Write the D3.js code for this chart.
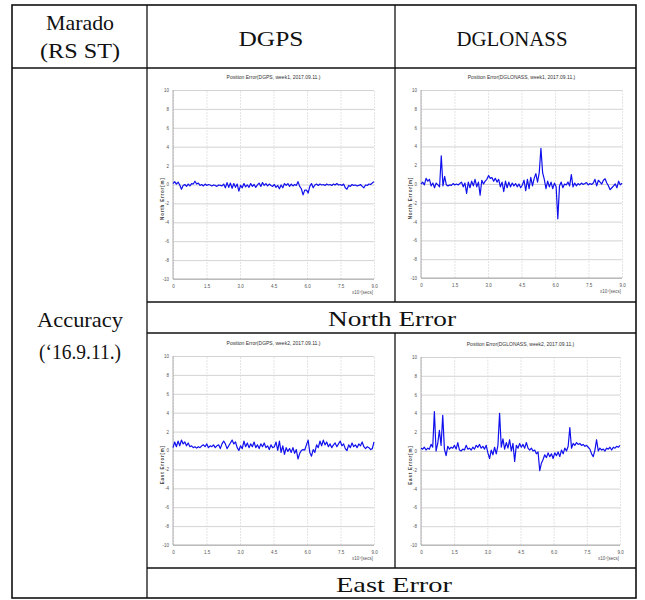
<!DOCTYPE html>
<html><head><meta charset="utf-8">
<script src="https://cdn.jsdelivr.net/npm/d3@7"></script>
<style>body{margin:0;background:#fff}svg{display:block}</style>
</head><body>
<svg id="c" width="645" height="600"></svg>
<script>
// ---- data ----
const columns = ["DGPS", "DGLONASS"];
const rowLabels = ["North Error", "East Error"];
const chartTitles = [
  "Position Error(DGPS, week1, 2017.09.11.)",
  "Position Error(DGLONASS, week1, 2017.09.11.)",
  "Position Error(DGPS, week2, 2017.09.11.)",
  "Position Error(DGLONASS, week2, 2017.09.11.)"
];
const yLabels = ["North Error[m]", "North Error[m]", "East Error[m]", "East Error[m]"];
const timeTicks = [0, 1.5, 3, 4.5, 6, 7.5, 9];
const timeTickLabels = ["0", "1.5", "3.0", "4.5", "6.0", "7.5", "9.0"];
const errTicks = [10, 8, 6, 4, 2, 0, -2, -4, -6, -8, -10];
const timeSpan = 9; // x10^4 secs

const dgpsNorth = [0.10,0.30,0.05,0.25,-0.05,-0.50,-0.10,0.00,-0.20,0.05,-0.15,0.10,0.05,0.35,0.05,0.15,-0.10,0.00,-0.15,0.05,
 -0.10,0.00,-0.05,-0.15,-0.05,-0.10,-0.20,-0.05,-0.10,-0.15,0.05,-0.35,0.20,-0.30,0.15,-0.40,0.10,-0.30,0.05,-0.70,
 -0.10,-0.35,0.10,-0.25,-0.05,-0.30,0.10,-0.20,0.00,-0.30,-0.05,0.15,-0.20,0.20,-0.10,0.10,-0.15,0.05,-0.10,-0.20,
 0.00,-0.30,-0.10,-0.45,-0.05,-0.35,0.10,-0.10,0.10,-0.20,0.05,-0.15,0.00,-0.10,0.30,-0.20,-0.45,-1.10,-0.60,-0.60,
 -0.90,-0.20,0.10,-0.35,-0.05,0.05,-0.10,0.05,-0.05,0.00,-0.10,0.05,-0.05,0.00,-0.10,0.05,-0.05,0.10,-0.05,0.00,
 -0.10,0.05,-0.35,-0.50,-0.10,-0.20,0.00,-0.10,-0.05,-0.15,-0.10,0.00,-0.20,-0.35,-0.05,-0.10,0.05,0.00,0.15,0.30];
const dglonassNorth = [0.00,0.20,-0.10,0.60,0.30,0.50,-0.20,0.10,-0.40,0.10,-0.10,-0.30,3.00,-0.20,0.80,-0.10,-0.20,-0.10,-0.15,0.05,
 -0.10,0.00,-0.10,0.05,0.20,-0.30,0.10,-1.00,0.20,-0.40,0.30,-0.20,0.50,-0.30,0.20,-1.20,0.40,0.00,0.30,0.50,
 0.90,0.60,0.70,0.30,0.60,0.20,0.50,-0.30,0.20,-0.80,0.30,-0.40,0.20,-0.30,0.10,-0.20,0.05,-0.30,0.00,-0.40,
 -0.10,0.40,-0.70,0.50,-0.50,0.70,-0.20,0.60,1.10,0.20,1.20,3.80,1.20,0.50,-0.50,0.30,-0.30,0.20,-0.50,0.10,
 -0.30,-3.70,-0.20,0.20,-0.40,0.00,-0.10,0.20,-0.20,1.00,-0.30,0.10,-0.20,0.05,-0.10,0.10,-0.05,0.05,0.15,-0.10,
 0.05,-0.05,0.10,0.50,-0.20,0.40,0.20,0.00,0.40,0.55,0.10,-0.20,-0.60,-0.40,-0.20,0.00,-0.40,0.30,-0.10,0.10];
const dgpsEast = [0.30,0.90,0.40,1.00,0.50,1.10,0.70,0.90,0.50,0.80,0.40,0.50,0.30,0.40,0.25,0.40,0.30,0.50,0.60,0.40,
 0.70,0.30,0.50,0.40,0.60,0.30,0.50,0.60,0.20,0.70,1.00,0.70,0.20,0.50,0.80,1.10,0.70,0.90,0.30,0.00,
 0.50,0.20,1.00,0.40,0.80,0.30,0.70,0.40,0.90,0.30,0.60,0.20,0.70,0.40,0.80,0.30,0.50,0.10,0.60,0.30,
 0.40,0.90,0.00,1.00,-0.20,0.50,-0.40,0.30,-0.10,0.20,-0.20,0.30,-0.30,0.10,-0.90,-0.30,0.00,0.10,0.05,0.60,
 1.10,-0.20,-0.60,0.10,-0.20,0.60,0.30,1.00,0.50,1.10,0.60,0.90,0.40,0.70,0.30,0.60,0.80,0.40,0.70,1.00,
 0.50,0.70,0.20,0.00,0.60,0.30,0.80,0.40,0.60,0.30,0.70,0.50,0.90,0.40,0.20,0.40,0.30,0.10,0.20,0.90];
const dglonassEast = [0.30,0.20,0.40,0.10,0.30,0.20,0.70,0.40,4.20,0.00,0.80,2.20,0.60,3.80,0.20,-0.50,0.50,0.20,0.40,0.30,
 0.60,0.20,0.90,0.10,0.00,0.20,0.10,0.60,0.20,0.30,0.10,0.40,0.20,0.60,0.40,0.70,0.30,0.50,0.20,0.60,
 -0.20,-0.80,0.10,-0.40,0.40,-0.30,0.60,4.00,0.40,1.30,0.20,0.90,0.30,1.20,0.00,0.80,-1.10,0.60,0.30,0.80,
 0.40,0.70,0.30,0.90,0.30,0.10,0.30,0.00,0.10,-0.30,-0.10,-2.10,-1.30,-0.90,-0.40,-0.70,-0.20,-0.60,-0.30,-0.80,
 -0.20,-0.50,-0.10,-0.60,0.10,-0.30,0.30,0.00,0.50,2.50,0.30,0.80,0.60,0.90,0.70,0.80,0.60,0.70,0.50,0.60,
 0.40,0.20,-0.30,-0.60,0.10,1.20,0.00,0.30,0.10,0.20,0.00,0.30,0.20,0.40,0.10,0.40,0.30,0.50,0.40,0.60];
const seriesList = [dgpsNorth, dglonassNorth, dgpsEast, dglonassEast];

// ---- layout ----
const svg = d3.select("#c");
svg.append("rect").attr("width", 645).attr("height", 600).attr("fill", "#fff");
const T = {L: 12, R: 636, T: 5, B: 598, c1: 147, c2: 395, h: 68, n1: 302, n2: 333, e1: 568};
const serif = "'Liberation Serif','DejaVu Serif',serif";

// charts
const panels = [
  {L: 173, R: 374, T: 90, B: 279, titleY: 79, ylx: 164},
  {L: 421, R: 622, T: 90, B: 278, titleY: 79, ylx: 412},
  {L: 173, R: 374, T: 356, B: 545, titleY: 345, ylx: 164},
  {L: 421, R: 620, T: 357, B: 545, titleY: 346, ylx: 412}
];
const ff = "'Liberation Sans','DejaVu Sans',sans-serif";
panels.forEach((p, k) => {
  const vals = seriesList[k];
  const n = vals.length;
  const pts = vals.map((v, i) => ({t: i * timeSpan / (n - 1), v}));
  const x = d3.scaleLinear().domain([0, 9]).range([p.L, p.R]);
  const y = d3.scaleLinear().domain([-10, 10]).range([p.B, p.T]);
  const g = svg.append("g");
  // horizontal grid
  g.append("g").attr("transform", `translate(${p.L},0)`)
    .call(d3.axisLeft(y).tickValues(errTicks).tickSize(-(p.R - p.L)).tickPadding(4).tickFormat(d => d))
    .call(s => s.select(".domain").remove())
    .call(s => s.selectAll("line").attr("stroke", "#c8c8c8").attr("stroke-width", 0.8))
    .call(s => s.selectAll("text").attr("font-size", 4.5).attr("fill", "#555").attr("font-family", ff));
  // vertical grid
  g.append("g").attr("transform", `translate(0,${p.B})`)
    .call(d3.axisBottom(x).tickValues(timeTicks).tickSize(-(p.B - p.T)).tickPadding(6)
      .tickFormat((d, i) => timeTickLabels[i]))
    .call(s => s.select(".domain").remove())
    .call(s => s.selectAll("line").attr("stroke", "#d8d8d8").attr("stroke-width", 0.7).attr("stroke-dasharray", "2,1"))
    .call(s => s.selectAll("text").attr("font-size", 4.5).attr("fill", "#555").attr("font-family", ff));
  // axis lines
  g.append("line").attr("x1", p.L).attr("x2", p.L).attr("y1", p.T).attr("y2", p.B).attr("stroke", "#999").attr("stroke-width", 0.8);
  g.append("line").attr("x1", p.L).attr("x2", p.R).attr("y1", p.B).attr("y2", p.B).attr("stroke", "#999").attr("stroke-width", 0.8);
  // line
  g.append("path").datum(pts)
    .attr("d", d3.line().x(d => x(d.t)).y(d => y(d.v)))
    .attr("fill", "none").attr("stroke", "#1010ee").attr("stroke-width", 1.2).attr("stroke-linejoin", "round");
  // title
  g.append("text").attr("x", (p.L + p.R) / 2).attr("y", p.titleY).attr("text-anchor", "middle")
    .attr("font-size", 5).attr("fill", "#333").attr("font-family", ff).text(chartTitles[k]);
  // y label
  g.append("text").attr("transform", `translate(${p.ylx},${y(-1.5)}) rotate(-90)`).attr("text-anchor", "middle")
    .attr("font-size", 4.5).attr("font-weight", "bold").attr("letter-spacing", 0.8).attr("fill", "#444")
    .attr("font-family", ff).text(yLabels[k]);
  // x unit label
  g.append("text").attr("x", p.R - 1).attr("y", p.B + 15).attr("text-anchor", "end")
    .attr("font-size", 4.5).attr("fill", "#555").attr("font-family", ff).text("x10⁴[secs]");
});

// table lines
const lines = [
  [T.c1, T.T, T.c1, T.B], [T.c2, T.T, T.c2, T.n1], [T.c2, T.n2, T.c2, T.e1],
  [T.L, T.h, T.R, T.h], [T.c1, T.n1, T.R, T.n1], [T.c1, T.n2, T.R, T.n2], [T.c1, T.e1, T.R, T.e1]
];
svg.append("g").selectAll("line").data(lines).join("line")
  .attr("x1", d => d[0]).attr("y1", d => d[1]).attr("x2", d => d[2]).attr("y2", d => d[3])
  .attr("stroke", "#111").attr("stroke-width", 1.3);
svg.append("rect").attr("x", T.L).attr("y", T.T).attr("width", T.R - T.L).attr("height", T.B - T.T)
  .attr("fill", "none").attr("stroke", "#111").attr("stroke-width", 1.6);

// table texts
const texts = [
  {s: "Marado", x: 80, y: 30, w: 68},
  {s: "(RS ST)", x: 80, y: 58, w: 80},
  {s: columns[0], x: 271, y: 46, w: 65},
  {s: columns[1], x: 512, y: 46, w: 111},
  {s: "Accuracy", x: 80, y: 327, w: 86},
  {s: "(\u201816.9.11.)", x: 80, y: 359, w: 82},
  {s: rowLabels[0], x: 392, y: 326, w: 128},
  {s: rowLabels[1], x: 394, y: 592, w: 116}
];
svg.append("g").selectAll("text").data(texts).join("text")
  .attr("x", d => d.x).attr("y", d => d.y).attr("text-anchor", "middle")
  .attr("font-family", serif).attr("font-size", 22).attr("fill", "#111")
  .attr("textLength", d => d.w).attr("lengthAdjust", "spacingAndGlyphs")
  .text(d => d.s);
</script>
</body></html>
